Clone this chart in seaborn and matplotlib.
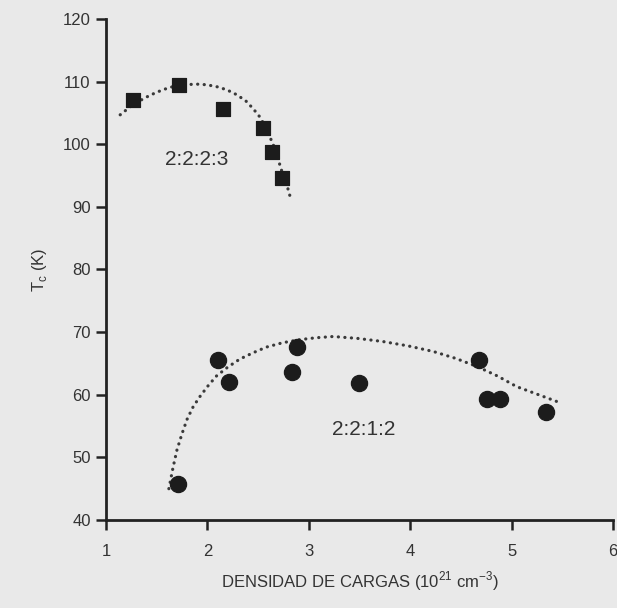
import matplotlib
matplotlib.use("Agg")
import matplotlib.pyplot as plt
import seaborn as sns
import pandas as pd

# 2:2:2:3 phase (squares)
sq_x = [1.27, 1.72, 2.15, 2.55, 2.64, 2.74]
sq_y = [107.1, 109.5, 105.7, 102.6, 98.8, 94.6]
# dotted guide curve
sq_fit_x = [1.14, 1.24, 1.34, 1.42, 1.50, 1.58, 1.66, 1.78, 1.89, 1.99, 2.09, 2.19,
            2.29, 2.38, 2.45, 2.52, 2.57, 2.61, 2.65, 2.69, 2.73, 2.78, 2.82]
sq_fit_y = [104.7, 106.0, 107.0, 107.7, 108.3, 108.8, 109.2, 109.5, 109.6, 109.5, 109.2, 108.7,
            107.9, 106.9, 105.7, 104.3, 102.8, 101.4, 99.9, 98.0, 95.9, 93.7, 91.4]

# 2:2:1:2 phase (circles)
ci_x = [1.71, 2.10, 2.21, 2.88, 2.83, 3.50, 4.68, 4.76, 4.89, 5.34]
ci_y = [45.7, 65.6, 62.0, 67.7, 63.6, 61.8, 65.6, 59.3, 59.3, 57.3]
ci_fit_x = [1.62, 1.66, 1.70, 1.75, 1.80, 1.86, 1.93, 2.01, 2.09, 2.20, 2.32, 2.45, 2.58,
            2.74, 2.91, 3.07, 3.24, 3.48, 3.73, 3.98, 4.23, 4.45, 4.66, 4.86, 5.05, 5.25, 5.45]
ci_fit_y = [45.0, 48.3, 51.2, 53.8, 56.1, 58.1, 59.8, 61.5, 63.0, 64.4, 65.7, 66.7, 67.6,
            68.3, 68.8, 69.1, 69.3, 69.0, 68.5, 67.8, 66.9, 65.8, 64.5, 63.0, 61.3, 60.1, 58.9]

x_ticks = [1, 2, 3, 4, 5, 6]
y_ticks = [40, 50, 60, 70, 80, 90, 100, 110, 120]

bg = "#e9e9e9"
ink = "#1c1c1c"

sns.set_style("ticks")
plt.rcParams["font.family"] = ["Liberation Sans", "DejaVu Sans"]
plt.rcParams["mathtext.fontset"] = "custom"
plt.rcParams["mathtext.rm"] = "Liberation Sans"

fig = plt.figure(figsize=(6.17, 6.08), dpi=100, facecolor=bg)
ax = fig.add_axes([0.1718, 0.1447, 0.8217, 0.8241])
ax.set_facecolor(bg)

dots = (0, (0.05, 2.0))
for fx, fy in [(sq_fit_x, sq_fit_y), (ci_fit_x, ci_fit_y)]:
    sns.lineplot(data=pd.DataFrame({"x": fx, "y": fy}), x="x", y="y", sort=False,
                 ax=ax, color="#3a3a3a", lw=2.3, linestyle=dots,
                 dash_capstyle="round", solid_capstyle="round")

sns.scatterplot(x=sq_x, y=sq_y, ax=ax, marker="s", s=115, color=ink, edgecolor=ink, zorder=3)
sns.scatterplot(x=ci_x, y=ci_y, ax=ax, marker="o", s=135, color=ink, edgecolor=ink, zorder=3)

ax.text(1.89, 97.6, "2:2:2:3", fontsize=15, color="#333333", ha="center", va="center")
ax.text(3.54, 54.5, "2:2:1:2", fontsize=15, color="#333333", ha="center", va="center")

ax.set_xlim(1, 6)
ax.set_ylim(40, 120)
ax.set_xticks(x_ticks)
ax.set_yticks(y_ticks)
ax.tick_params(axis="both", direction="out", length=7, width=1.8, colors="#222222",
               labelsize=12, labelcolor="#333333")
ax.tick_params(axis="y", pad=4)
ax.tick_params(axis="x", pad=10)
for side in ["top", "right"]:
    ax.spines[side].set_visible(False)
for side in ["left", "bottom"]:
    ax.spines[side].set_linewidth(2.0)
    ax.spines[side].set_color("#222222")

ax.set_xlabel(r"DENSIDAD DE CARGAS (10$^{\mathrm{21}}$ cm$^{\mathrm{-3}}$)", fontsize=12,
              color="#333333", labelpad=8)
ax.set_ylabel(r"T$_{\mathrm{c}}$ (K)", fontsize=12, color="#333333", labelpad=10)

fig.savefig("out.png", dpi=100, facecolor=bg)
